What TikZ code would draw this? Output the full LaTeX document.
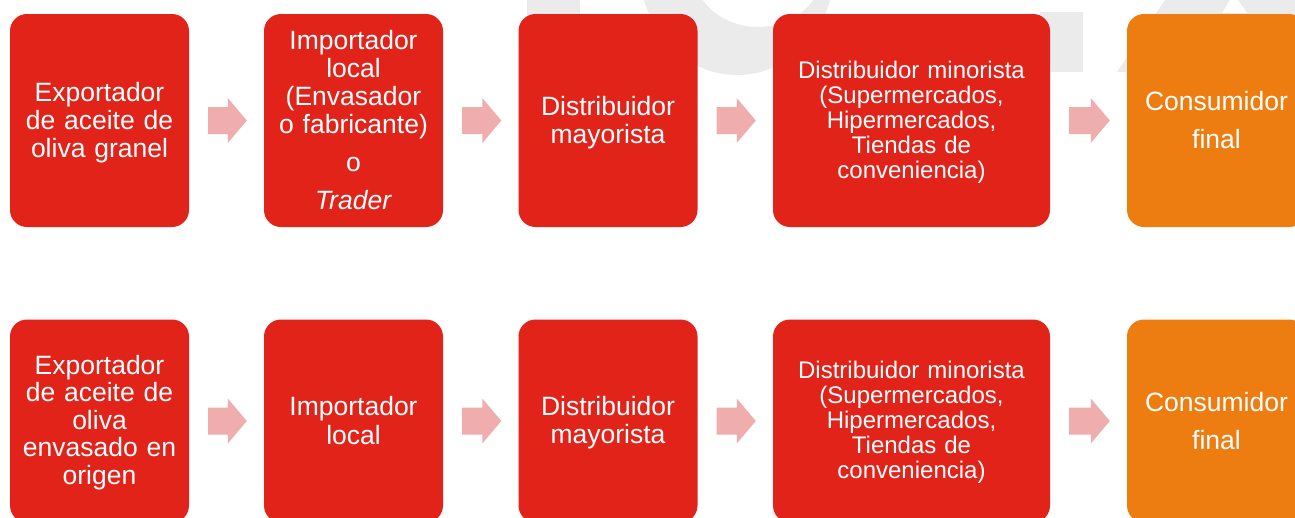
\documentclass[tikz,border=0pt]{standalone}
\usepackage{fontspec}
\setmainfont{Liberation Sans}

\definecolor{boxred}{HTML}{E2231A}
\definecolor{boxorange}{HTML}{EE7D11}
\definecolor{arrowpink}{HTML}{EFAEAD}
\definecolor{markgray}{HTML}{EBEBEB}

\newcommand{\linestrut}{\leavevmode\vrule height 0.81\baselineskip depth 0.19\baselineskip width 0pt}

\begin{document}
\begin{tikzpicture}[x=1pt, y=-1pt,
        box/.style={rounded corners=17pt, fill=boxred, text=white, align=center, inner sep=0pt,
            minimum width=179pt, minimum height=213pt, text width=172pt,
            font=\fontsize{26.5}{28}\selectfont},
        stage/.style={box, execute at begin node=\linestrut, execute at end node=\linestrut},
        widebox/.style={minimum width=277pt, text width=270pt, font=\fontsize{24}{25}\selectfont},
        lastbox/.style={box, fill=boxorange, font=\fontsize{26.5}{38}\selectfont},
        lowbox/.style={minimum height=203pt},
        flow/.style={fill=arrowpink, to path={
            ([xshift=19pt, yshift=13.5pt]\tikztostart) -- ([xshift=-36pt, yshift=13.5pt]\tikztotarget)
            -- ([xshift=-36pt, yshift=22.5pt]\tikztotarget) -- ([xshift=-17pt]\tikztotarget)
            -- ([xshift=-36pt, yshift=-22.5pt]\tikztotarget) -- ([xshift=-36pt, yshift=-13.5pt]\tikztotarget)
            -- ([xshift=19pt, yshift=-13.5pt]\tikztostart) -- cycle}}]
        \useasboundingbox (0, 0) rectangle (1295, 517);
        \clip (0, 0) rectangle (1295, 517);
        \fill[white] (0, 0) rectangle (1295, 517);

        % faint logo behind the top row
        \fill[markgray] (527, -5) rectangle (580, 40);
        \fill[markgray, even odd rule] (737, -30) ellipse [x radius=97pt, y radius=105pt]
            (758, -30) ellipse [x radius=65pt, y radius=57pt];
        \fill[markgray] (1040, 12) rectangle (1083, 72);
        \fill[markgray] (1117, 72) -- (1165, 0) -- (1295, 0) -- (1295, 72) -- cycle;
        \fill[white] (1222, 13) -- (1230, 0) -- (1238, 0) -- (1247, 13) -- cycle;

        % bulk oil
        \node[stage] (exp1) at (99.5, 120.5) {Exportador\\de aceite de\\oliva granel};
        \node[stage] (imp1) at (353.5, 120.5) {Importador\\local\\(Envasador\\o fabricante)\\[10pt]o\\[10pt]\textit{Trader}};
        \node[stage] (may1) at (608, 120.5) {Distribuidor\\mayorista};
        \node[stage, widebox] (min1) at (911.5, 120.5) {Distribuidor minorista\\(Supermercados,\\Hipermercados,\\Tiendas de\\conveniencia)};
        \node[lastbox] (con1) at (1216.5, 120.5) {Consumidor\\final};

        \path[flow] (exp1.east) to (imp1.west);
        \path[flow] (imp1.east) to (may1.west);
        \path[flow] (may1.east) to (min1.west);
        \path[flow] (min1.east) to (con1.west);

        % packed at origin
        \node[stage, lowbox, font=\fontsize{26.5}{27.5}\selectfont] (exp2) at (99.5, 421) {Exportador\\de aceite de\\oliva\\envasado en\\origen};
        \node[stage, lowbox] (imp2) at (353.5, 421) {Importador\\local};
        \node[stage, lowbox] (may2) at (608, 421) {Distribuidor\\mayorista};
        \node[stage, lowbox, widebox] (min2) at (911.5, 421) {Distribuidor minorista\\(Supermercados,\\Hipermercados,\\Tiendas de\\conveniencia)};
        \node[lastbox, lowbox] (con2) at (1216.5, 421) {Consumidor\\final};

        \path[flow] (exp2.east) to (imp2.west);
        \path[flow] (imp2.east) to (may2.west);
        \path[flow] (may2.east) to (min2.west);
        \path[flow] (min2.east) to (con2.west);
    \end{tikzpicture}
\end{document}
